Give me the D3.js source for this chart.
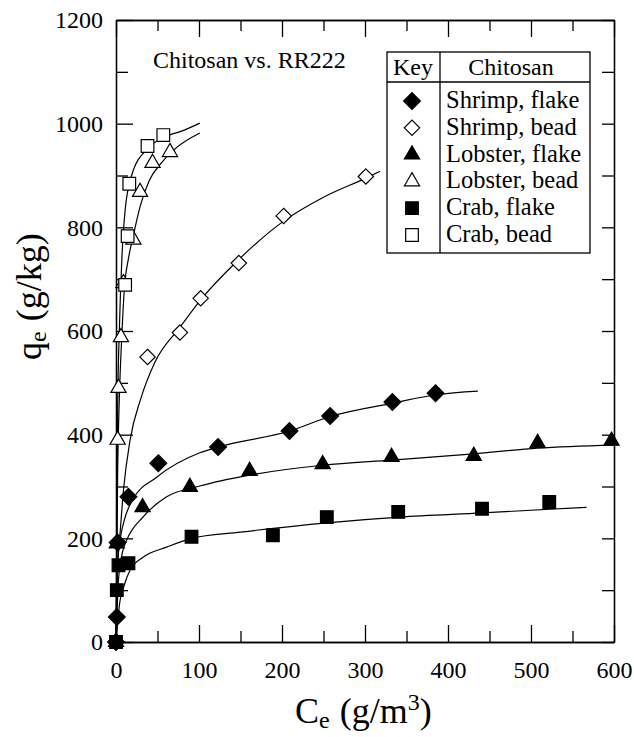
<!DOCTYPE html>
<html>
<head>
<meta charset="utf-8">
<title>Chitosan vs. RR222</title>
<script src="https://d3js.org/d3.v7.min.js"></script>
<style>
  body { margin: 0; background: #fff; }
  svg { display: block; }
  svg text { font-family: "Liberation Serif", "Times New Roman", Times, "DejaVu Serif", serif; fill: #000; }
  .axis path, .axis line { stroke: #000; stroke-width: 1.3; }
  .axis text { font-size: 24px; }
</style>
</head>
<body>
<svg id="chart"></svg>
<script>
// measured points [Ce, qe]
var shrimpFlake = [[0,0],[1,48],[2,192],[15,280],[51,345],[123,376],[209,407],[258,436],[333,463],[385,480]];
var shrimpBead = [[38,550],[77,597],[102,663],[148,731],[202,822],[301,898]];
var lobsterFlake = [[1,190],[32,260],[89,299],[161,330],[249,343],[332,357],[431,359],[508,384],[597,388]];
var lobsterBead = [[0,0],[2,390],[3,490],[6,588],[9,692],[21,776],[29,868],[44,924],[65,945]];
var crabFlake = [[0,0],[1,100],[3,148],[15,152],[91,203],[189,206],[254,241],[340,251],[441,257],[522,270]];
var crabBead = [[11,689],[14,783],[16,884],[38,957],[57,978]];

// fitted lines
var shrimpFlakeFit = [[0,0],[2,150],[5,197],[10,235],[20,274],[49,318],[101,365],[123,376],[209,407],[258,435],[334,461],[386,477],[436,484]];
var shrimpBeadFit = [[0,0],[2,150],[5,212],[9,293],[17,390],[30,470],[47,540],[77,607],[102,660],[148,738],[202,812],[250,858],[301,895],[318,908]];
var lobsterFlakeFit = [[0,0],[3,120],[8,175],[13,197],[33,242],[61,280],[101,301],[161,322],[249,341],[332,351],[431,363],[508,374],[600,380]];
var lobsterBeadFit = [[0,0],[2,330],[4,470],[7,590],[10,680],[15,740],[21,785],[29,840],[40,890],[55,925],[70,950],[101,982]];
var crabFlakeFit = [[0,0],[4,70],[10,110],[17,139],[33,164],[61,183],[91,200],[150,212],[254,230],[342,241],[441,249],[567,260]];
var crabBeadFit = [[0,0],[2,450],[4,600],[7,737],[11,833],[19,901],[38,952],[60,975],[83,988],[101,1001]];

var xMajor = [0,100,200,300,400,500,600];
var xMinor = [50,150,250,350,450,550];
var yMajor = [0,200,400,600,800,1000,1200];
var yMinor = [100,300,500,700,900,1100];

var legendLabels = ["Shrimp, flake","Shrimp, bead","Lobster, flake","Lobster, bead","Crab, flake","Crab, bead"];

var width = 634, height = 737;
var svg = d3.select("#chart").attr("width", width).attr("height", height)
    .attr("font-family", "Liberation Serif, Times New Roman, serif");

var plotL = 116, plotR = 614, plotT = 20, plotB = 642;
var x = d3.scaleLinear().domain([0,600]).range([plotL,plotR]);
var y = d3.scaleLinear().domain([0,1200]).range([plotB,plotT]);

// axes: inward ticks, long on the labelled ones
function addAxis(axis, tx, ty, vals, size, labels){
    var g = svg.append("g").attr("class","axis")
        .attr("transform","translate(" + tx + "," + ty + ")")
        .call(axis.tickValues(vals).tickSizeInner(-size).tickSizeOuter(0)
            .tickFormat(labels ? d3.format("d") : ""));
    g.attr("font-family", null).attr("font-size", null);
    return g;
}
addAxis(d3.axisBottom(x).tickPadding(19), 0, plotB, xMajor, 17, true);
addAxis(d3.axisBottom(x), 0, plotB, xMinor, 11, false);
addAxis(d3.axisTop(x), 0, plotT, xMajor, 17, false);
addAxis(d3.axisTop(x), 0, plotT, xMinor, 11, false);
addAxis(d3.axisLeft(y).tickPadding(13), plotL, 0, yMajor, 17, true);
addAxis(d3.axisLeft(y), plotL, 0, yMinor, 12, false);
addAxis(d3.axisRight(y), plotR, 0, yMajor, 12, false);
addAxis(d3.axisRight(y), plotR, 0, yMinor, 12, false);

// fit lines
var line = d3.line().x(function(d){ return x(d[0]); }).y(function(d){ return y(d[1]); })
    .curve(d3.curveMonotoneX);
[shrimpFlakeFit, shrimpBeadFit, lobsterFlakeFit, lobsterBeadFit, crabFlakeFit, crabBeadFit].forEach(function(f){
    svg.append("path").datum(f).attr("d", line)
        .attr("fill","none").attr("stroke","#000").attr("stroke-width",1.2);
});

// markers
var styles = [
    {type: d3.symbolDiamond2, size: 180, fill: "#000"},
    {type: d3.symbolDiamond2, size: 150, fill: "#fff"},
    {type: d3.symbolTriangle, size: 100, fill: "#000"},
    {type: d3.symbolTriangle, size: 100, fill: "#fff"},
    {type: d3.symbolSquare, size: 160, fill: "#000"},
    {type: d3.symbolSquare, size: 160, fill: "#fff"}
];
var series = [shrimpFlake, shrimpBead, lobsterFlake, lobsterBead, crabFlake, crabBead];
// open ones first, filled on top near the origin
[1,3,5,0,2,4].forEach(function(k){
    var s = styles[k];
    svg.append("g").selectAll("path").data(series[k]).enter().append("path")
        .attr("transform", function(d){ return "translate(" + x(d[0]) + "," + y(d[1]) + ")"; })
        .attr("d", d3.symbol().type(s.type).size(s.size))
        .attr("fill", s.fill).attr("stroke","#000").attr("stroke-width",1.2);
});

// title
svg.append("text").attr("x",153).attr("y",68).attr("font-size",24).text("Chitosan vs. RR222");

// legend
var lg = svg.append("g");
lg.append("rect").attr("x",387).attr("y",52).attr("width",203).attr("height",201)
    .attr("fill","#fff").attr("stroke","#000").attr("stroke-width",1.3);
lg.append("line").attr("x1",387).attr("x2",590).attr("y1",82).attr("y2",82).attr("stroke","#000").attr("stroke-width",1.3);
lg.append("line").attr("x1",440).attr("x2",440).attr("y1",52).attr("y2",253).attr("stroke","#000").attr("stroke-width",1.3);
lg.append("text").attr("x",413).attr("y",75).attr("font-size",24).attr("text-anchor","middle").text("Key");
lg.append("text").attr("x",511).attr("y",75).attr("font-size",24).attr("text-anchor","middle").text("Chitosan");
legendLabels.forEach(function(t,i){
    var by = 108 + i*26.8;
    var s = styles[i];
    lg.append("path").attr("transform","translate(412," + (by-7) + ")")
        .attr("d", d3.symbol().type(s.type).size(s.size))
        .attr("fill", s.fill).attr("stroke","#000").attr("stroke-width",1.2);
    lg.append("text").attr("x",446).attr("y",by).attr("font-size",24.5).text(t);
});

// axis titles
var xt = svg.append("text").attr("x",295).attr("y",723).attr("font-size",36);
xt.append("tspan").text("C");
xt.append("tspan").attr("font-size",24).attr("dy",5).text("e");
xt.append("tspan").attr("dy",-5).attr("dx",10).text("(g/m");
xt.append("tspan").attr("font-size",24).attr("dy",-13).text("3");
xt.append("tspan").attr("dy",13).text(")");

var yt = svg.append("text").attr("transform","translate(41,360) rotate(-90)").attr("font-size",36);
yt.append("tspan").text("q");
yt.append("tspan").attr("font-size",24).attr("dy",5).text("e");
yt.append("tspan").attr("dy",-5).attr("dx",10).text("(g/kg)");
</script>
</body>
</html>
